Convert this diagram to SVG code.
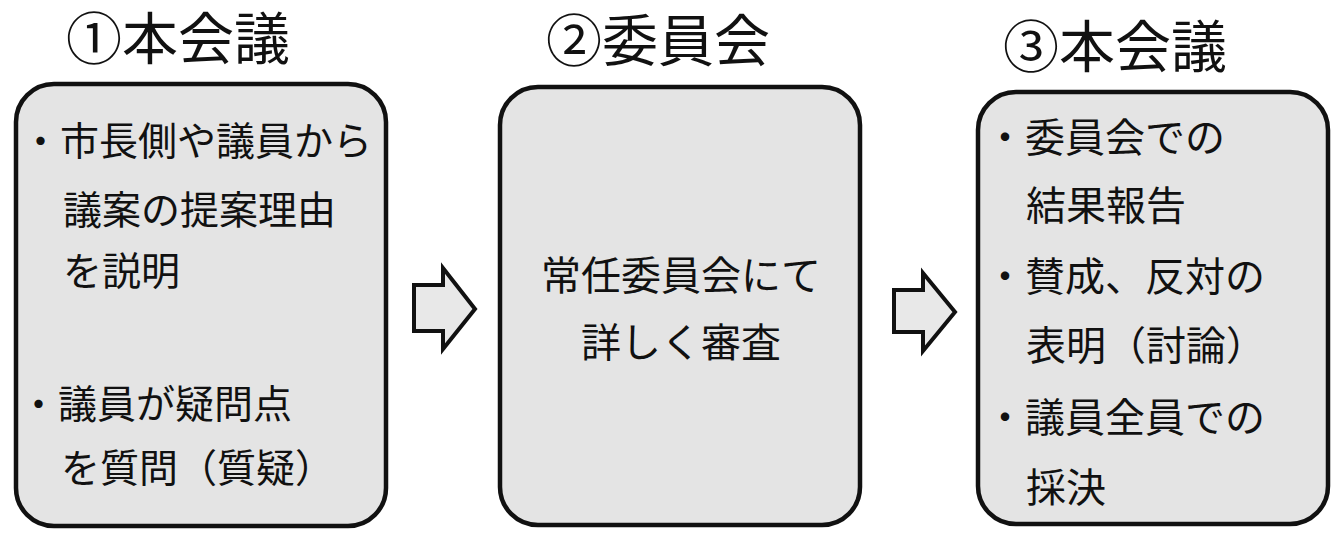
<svg xmlns="http://www.w3.org/2000/svg" width="1338" height="535" viewBox="0 0 1338 535">
<style>
.box{fill:#e4e4e4;stroke:#111;stroke-width:4.5}
.arrow{fill:#e8e8e8;stroke:#111;stroke-width:4;stroke-linejoin:miter}
.title{font-family:"Liberation Sans","Noto Sans CJK JP",sans-serif;font-size:56px;fill:#111}
.b1{font-family:"Liberation Sans","Noto Sans CJK JP",sans-serif;font-size:39px;fill:#111}
.b2{font-family:"Liberation Sans","Noto Sans CJK JP",sans-serif;font-size:40px;fill:#111}
</style>
<rect width="1338" height="535" fill="#fff"/>
<g id="node1">
<text class="title" x="66" y="59">①本会議</text>
<rect class="box" x="16" y="84" width="370" height="442" rx="38"/>
<text class="b1" x="21" y="155">・市長側や議員から</text>
<text class="b1" x="63" y="224">議案の提案理由</text>
<text class="b1" x="63" y="285">を説明</text>
<text class="b1" x="19" y="418">・議員が疑問点</text>
<text class="b1" x="61" y="482">を質問（質疑）</text>
</g>
<g id="node2">
<text class="title" x="546" y="61">②委員会</text>
<rect class="box" x="500" y="87" width="360" height="438" rx="38"/>
<text class="b2" x="681" y="290" text-anchor="middle">常任委員会にて</text>
<text class="b2" x="681" y="357" text-anchor="middle">詳しく審査</text>
</g>
<g id="node3">
<text class="title" x="1003" y="67">③本会議</text>
<rect class="box" x="978" y="92" width="350" height="432" rx="38"/>
<text class="b2" x="985" y="152">・委員会での</text>
<text class="b2" x="1026" y="220">結果報告</text>
<text class="b2" x="985" y="291">・賛成、反対の</text>
<text class="b2" x="1026" y="360">表明（討論）</text>
<text class="b2" x="985" y="432">・議員全員での</text>
<text class="b2" x="1026" y="502">採決</text>
</g>
<g id="connectors">
<polygon class="arrow" points="414,285 443,285 443,268 475,309 443,349 443,331 414,331"/>
<polygon class="arrow" points="894,290 923,290 923,273 955,312 923,351 923,332 894,332"/>
</g>
</svg>
